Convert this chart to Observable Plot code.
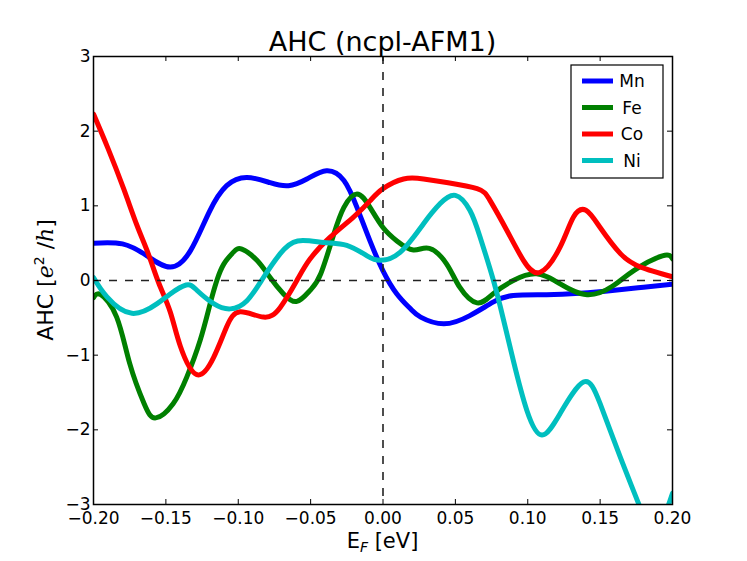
<!DOCTYPE html>
<html><head><meta charset="utf-8">
<script src="https://cdn.jsdelivr.net/npm/d3@7"></script>
<script src="https://cdn.jsdelivr.net/npm/@observablehq/plot@0.6"></script>
<style>body{margin:0;background:#fff} svg{display:block}</style>
</head><body><div id="chart"></div>
<script>
const seriesNames = ["Mn", "Fe", "Co", "Ni"];
const seriesColors = ["#0000ff", "#008000", "#ff0000", "#00bfbf"];

const mnX = [-0.200,-0.180,-0.163,-0.147,-0.133,-0.120,-0.108,-0.094,-0.078,-0.0653,-0.0526,-0.039,-0.027,-0.018,-0.009,0.000,0.0096,0.019,0.026,0.042,0.060,0.076,0.090,0.113,0.136,0.160,0.180,0.200];
const mnY = [0.50,0.49,0.33,0.18,0.40,0.92,1.27,1.38,1.31,1.27,1.36,1.47,1.34,0.98,0.53,0.13,-0.18,-0.38,-0.49,-0.58,-0.47,-0.29,-0.20,-0.19,-0.17,-0.13,-0.09,-0.05];

const feX = [-0.200,-0.195,-0.184,-0.175,-0.165,-0.157,-0.145,-0.1355,-0.1263,-0.1194,-0.1148,-0.110,-0.1033,-0.0975,-0.0871,-0.078,-0.0687,-0.0595,-0.0503,-0.043,-0.034,-0.027,-0.018,-0.009,0.000,0.0096,0.021,0.032,0.044,0.053,0.065,0.076,0.090,0.106,0.122,0.141,0.159,0.173,0.193,0.200];
const feY = [-0.23,-0.19,-0.49,-1.11,-1.65,-1.84,-1.65,-1.29,-0.80,-0.31,0.00,0.22,0.38,0.42,0.27,0.04,-0.18,-0.28,-0.13,0.09,0.62,0.98,1.16,0.98,0.71,0.53,0.41,0.43,0.22,-0.09,-0.30,-0.18,0.00,0.09,-0.04,-0.19,-0.07,0.13,0.33,0.29];

const coX = [-0.200,-0.190,-0.179,-0.170,-0.162,-0.155,-0.147,-0.140,-0.1286,-0.117,-0.108,-0.0987,-0.0826,-0.071,-0.0595,-0.0503,-0.0365,-0.0204,-0.0088,0.000,0.0142,0.028,0.045,0.065,0.074,0.0856,0.097,0.1086,0.1224,0.1316,0.1402,0.150,0.164,0.178,0.200];
const coY = [2.23,1.77,1.22,0.74,0.35,-0.03,-0.42,-0.88,-1.26,-1.03,-0.62,-0.42,-0.49,-0.36,0.00,0.29,0.58,0.85,1.07,1.23,1.36,1.36,1.31,1.23,1.07,0.67,0.27,0.11,0.45,0.85,0.94,0.71,0.36,0.18,0.05];

const niX = [-0.200,-0.1907,-0.1735,-0.156,-0.147,-0.136,-0.1286,-0.117,-0.1056,-0.094,-0.0826,-0.071,-0.059,-0.041,-0.025,-0.011,-0.002,0.012,0.028,0.0395,0.050,0.060,0.0671,0.0763,0.0833,0.090,0.0994,0.1098,0.1224,0.1385,0.150,0.1638,0.1766,0.188,0.200];
const niY = [0.04,-0.22,-0.44,-0.31,-0.18,-0.06,-0.13,-0.31,-0.38,-0.27,0.04,0.36,0.53,0.51,0.47,0.33,0.27,0.38,0.76,1.03,1.14,0.94,0.58,0.00,-0.53,-1.07,-1.74,-2.07,-1.78,-1.36,-1.65,-2.36,-2.99,-3.35,-2.85];

const xTicks = [-0.20,-0.15,-0.10,-0.05,0.00,0.05,0.10,0.15,0.20];
const yTicks = [-3,-2,-1,0,1,2,3];
const titleText = "AHC (ncpl-AFM1)";

const data = [];
[[mnX, mnY], [feX, feY], [coX, coY], [niX, niY]].forEach(([xs, ys], i) =>
  xs.forEach((x, j) => data.push({series: seriesNames[i], x, y: ys[j]})));

const W = 747, H = 561, mL = 93, mR = 75, mT = 56, mB = 57;
const fw = W - mL - mR, fh = H - mT - mB;
const tick = 5;

const plot = Plot.plot({
  width: W, height: H,
  marginLeft: mL, marginRight: mR, marginTop: mT, marginBottom: mB,
  style: {fontFamily: "DejaVu Sans", fontSize: "17px", color: "#000", background: "#fff"},
  x: {domain: [-0.2, 0.2]},
  y: {domain: [-3, 3]},
  color: {domain: seriesNames, range: seriesColors},
  marks: [
    Plot.line(data, {x: "x", y: "y", z: "series", stroke: "series", strokeWidth: 5, curve: "natural", clip: true, strokeLinejoin: "round"}),
    Plot.ruleY([0], {stroke: "#222", strokeWidth: 1.6, strokeDasharray: "8,8"}),
    Plot.ruleX([0], {stroke: "#222", strokeWidth: 1.6, strokeDasharray: "8,8"}),
    Plot.ruleX(xTicks, {x: d => d, insetTop: fh - tick, stroke: "#000", strokeWidth: 1}),
    Plot.ruleX(xTicks, {x: d => d, insetBottom: fh - tick, stroke: "#000", strokeWidth: 1}),
    Plot.ruleY(yTicks, {y: d => d, insetRight: fw - tick, stroke: "#000", strokeWidth: 1}),
    Plot.ruleY(yTicks, {y: d => d, insetLeft: fw - tick, stroke: "#000", strokeWidth: 1}),
    Plot.frame({stroke: "#000", strokeWidth: 1.5}),
    Plot.axisX({ticks: xTicks, tickSize: 0, tickPadding: 7, tickFormat: d3.format(".2f"), label: null}),
    Plot.axisY({ticks: yTicks, tickSize: 0, tickPadding: 3, tickFormat: d3.format("d"), label: null})
  ]
});

const svg = d3.select(plot);
// title
svg.append("text").attr("x", mL + fw / 2).attr("y", 51).attr("text-anchor", "middle")
  .attr("font-size", 27).attr("fill", "#000").text(titleText);
// x label
const xl = svg.append("text").attr("x", mL + fw / 2).attr("y", 548).attr("text-anchor", "middle")
  .attr("font-size", 21).attr("fill", "#000");
xl.append("tspan").text("E");
xl.append("tspan").attr("font-style", "italic").attr("font-size", 14).attr("dy", 4).text("F");
xl.append("tspan").attr("dy", -4).text(" [eV]");
// y label
const yl = svg.append("text").attr("transform", `translate(53,${mT + fh / 2}) rotate(-90)`)
  .attr("text-anchor", "middle").attr("font-size", 22).attr("fill", "#000");
yl.append("tspan").text("AHC [");
yl.append("tspan").attr("font-family", "DejaVu Serif").attr("font-style", "italic").text("e");
yl.append("tspan").attr("font-size", 14).attr("dy", -9).text("2");
yl.append("tspan").attr("dy", 9).text(" /");
yl.append("tspan").attr("font-family", "DejaVu Serif").attr("font-style", "italic").text("h");
yl.append("tspan").text("]");
// legend
const lg = svg.append("g");
lg.append("rect").attr("x", 571).attr("y", 65).attr("width", 92).attr("height", 113)
  .attr("fill", "#fff").attr("stroke", "#000").attr("stroke-width", 1.2);
seriesNames.forEach((name, i) => {
  const cy = 81 + i * 26.5;
  lg.append("line").attr("x1", 582).attr("x2", 613).attr("y1", cy).attr("y2", cy)
    .attr("stroke", seriesColors[i]).attr("stroke-width", 5);
  lg.append("text").attr("x", 632).attr("y", cy + 6).attr("font-size", 17).attr("fill", "#000").text(name);
});

document.getElementById("chart").appendChild(plot);
</script>
</body></html>
